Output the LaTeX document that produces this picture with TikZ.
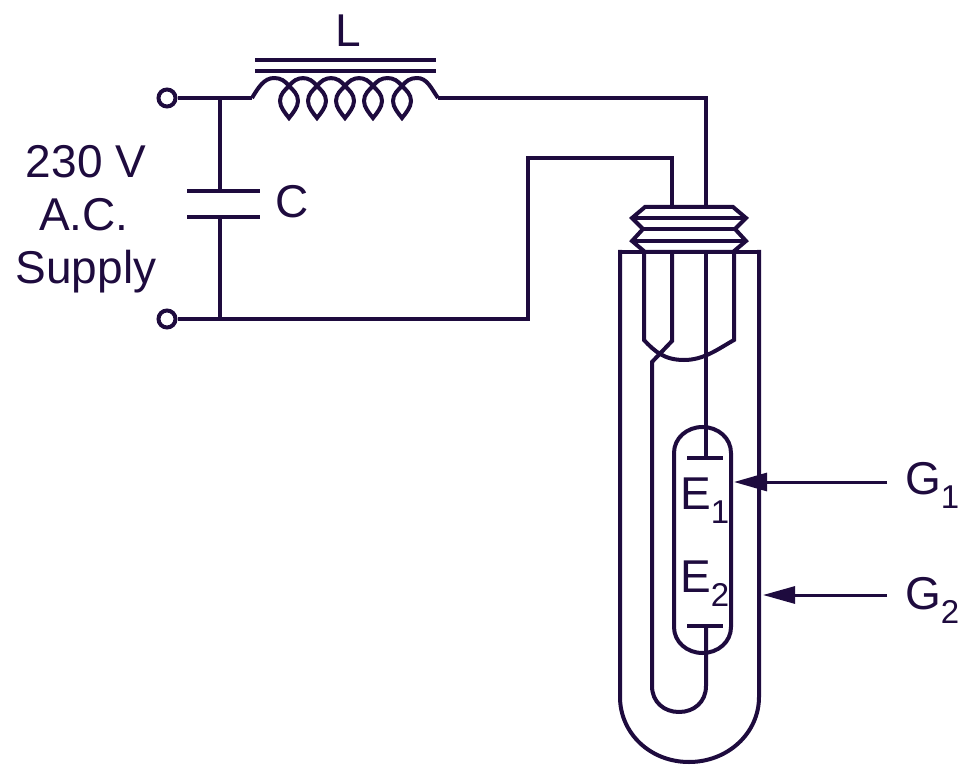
\documentclass[tikz,border=0pt]{standalone}
\usepackage{fontspec}
\setmainfont{Liberation Sans}
\usetikzlibrary{arrows.meta}
\definecolor{ink}{HTML}{1E0B3E}
\newcommand{\bigtxt}{\fontsize{46}{46}\selectfont}
\newcommand{\subtxt}[1]{\raisebox{-14pt}{\fontsize{33}{33}\selectfont #1}}
\tikzset{
  wire/.style={draw=ink,line width=4pt,line join=miter},
  thinwire/.style={draw=ink,line width=4pt},
  lbl/.style={text=ink,inner sep=0pt,anchor=base,font=\bigtxt},
  lblw/.style={text=ink,inner sep=0pt,anchor=base west,font=\bigtxt},
  term/.style={circle,draw=ink,line width=4pt,fill=white,minimum size=17pt,inner sep=0pt},
  pointer/.style={draw=ink,line width=3pt,-{Triangle[length=33pt,width=18pt,fill=ink]}},
  pointerlong/.style={draw=ink,line width=3pt,-{Triangle[length=32pt,width=17pt,fill=ink]}}
}
\begin{document}
\begin{tikzpicture}[x=1pt,y=-1pt]
\useasboundingbox (0,0) rectangle (969,767);
% terminals
\node[term] (t1) at (167,98) {};
\node[term] (t2) at (167,319) {};
% junctions and corners
\coordinate (coilL) at (252,98);
\coordinate (coilR) at (438,98);
\coordinate (j1) at (220,98);
\coordinate (j2) at (220,319);
\coordinate (p1) at (220,191);
\coordinate (p2) at (220,217);
\coordinate (pl1) at (187,191);
\coordinate (pr1) at (260,191);
\coordinate (pl2) at (187,217);
\coordinate (pr2) at (260,217);
\coordinate (c1) at (706,207);
\coordinate (c2) at (672,207);
% supply wiring
\draw[wire] (t1) -- (coilL);
\draw[wire] (j1) -- (p1);
\draw[wire] (p2) -- (j2);
\draw[wire] (pl1) -- (pr1);
\draw[wire] (pl2) -- (pr2);
\draw[wire] (coilR) -- (706,98) -- (c1);
\draw[wire] (t2) -- (528,319) -- (528,158) -- (672,158) -- (c2);
% inductor core
\coordinate (k1) at (255,60); \coordinate (k2) at (436,60);
\coordinate (k3) at (255,71); \coordinate (k4) at (436,71);
\draw[wire] (k1) -- (k2);
\draw[wire] (k3) -- (k4);
% coil
\draw[thinwire] (coilL) .. controls (258,88) and (264,78) .. (274,78);
\foreach \c in {289,317,345,373,402}{
  \draw[thinwire,line join=miter] (\c-15,78) .. controls (\c-8,78) and (\c-4,81) .. (\c,86)
     .. controls (\c+4,90) and (\c+9,94) .. (\c+9,101)
     .. controls (\c+9,107) and (\c+4,113) .. (\c,118)
     .. controls (\c-4,113) and (\c-9,107) .. (\c-9,101)
     .. controls (\c-9,94) and (\c-4,90) .. (\c,86)
     .. controls (\c+4,81) and (\c+8,78) .. (\c+15,78);
}
\draw[thinwire] (417,78) .. controls (427,78) and (431,88) .. (coilR);
% lamp cap
\draw[wire] (645,207) -- (733,207) -- (746,218) -- (735,229) -- (746,241) -- (733,252)
   -- (645,252) -- (632,241) -- (643,229) -- (632,218) -- cycle;
\draw[wire] (632,218) -- (746,218);
\draw[wire] (643,229) -- (735,229);
\draw[wire] (632,241) -- (746,241);
% outer tube
\draw[wire] (620,252) -- (759,252);
\draw[wire] (620,250) -- (620,697) .. controls (620,733) and (650,762) .. (689,762)
   .. controls (728,762) and (759,733) .. (759,697) -- (759,250);
% inner tube top
\draw[wire] (644,252) -- (644,340) .. controls (655,352) and (665,360) .. (684,360)
   .. controls (704,360) and (718,349) .. (734,340) -- (734,252);
% inner wire, U and stem
\draw[wire] (672,252) -- (672,341) -- (652,362) -- (652,686)
   .. controls (652,702) and (664,712) .. (679,712)
   .. controls (694,712) and (706,702) .. (706,686) -- (706,626);
\draw[wire] (706,252) -- (706,458);
% capsule
\draw[wire] (674,453) .. controls (674,438) and (687,427) .. (702.5,427)
   .. controls (718,427) and (731,438) .. (731,453) -- (731,627)
   .. controls (731,642) and (718,653) .. (702.5,653)
   .. controls (687,653) and (674,642) .. (674,627) -- cycle;
\draw[wire] (687,458) -- (723,458);
\draw[wire] (687,626) -- (723,626);
% labels
\node[lbl] (supA) at (86,178) {230 V};
\node[lbl] (supB) at (84,231) {A.C.};
\node[lbl] (supC) at (86,284) {Supply};
\node[lbl] (capC) at (292,218) {C};
\node[lbl] (indL) at (348,47) {L};
\node[lblw] (e1) at (680,509) {E\subtxt{1}};
\node[lblw] (e2) at (680,592) {E\subtxt{2}};
\node[lblw] (g1) at (905,494) {G\subtxt{1}};
\node[lblw] (g2) at (905,609) {G\subtxt{2}};
% pointers
\coordinate (g1s) at (887,482); \coordinate (g1t) at (734,482);
\coordinate (g2s) at (887,595); \coordinate (g2t) at (763,595);
\draw[pointer] (g1s) -- (g1t);
\draw[pointerlong] (g2s) -- (g2t);
\end{tikzpicture}
\end{document}
